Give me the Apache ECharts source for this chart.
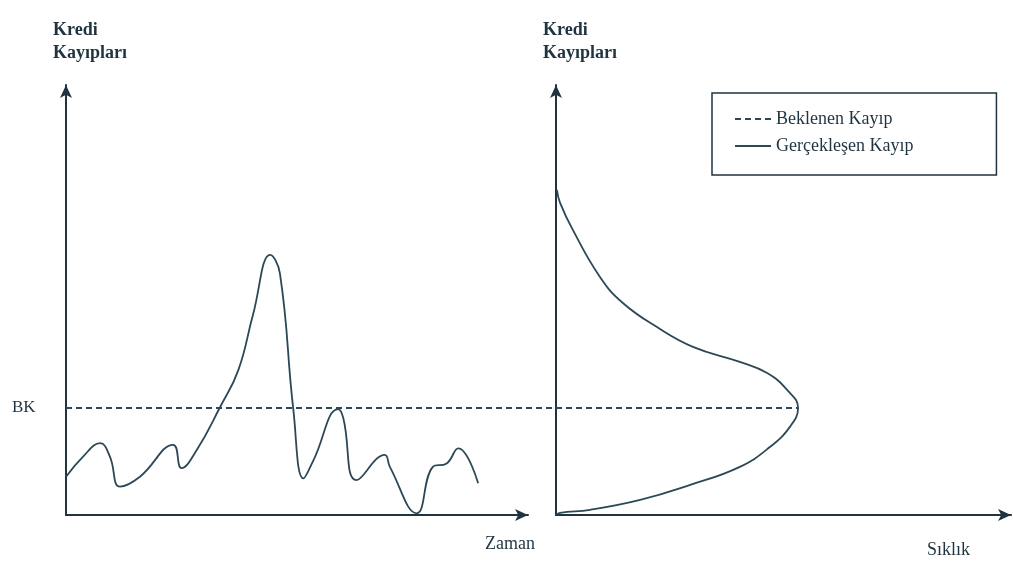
<!DOCTYPE html>
<html>
<head>
<meta charset="utf-8">
<script src="https://cdn.jsdelivr.net/npm/echarts@6/dist/echarts.min.js"></script>
<style>html,body{margin:0;padding:0;background:#fff}#c{width:1013px;height:564px}</style>
</head>
<body>
<div id="c"></div>
<script>
// Left panel: realized credit losses over time (Zaman 0-100, Kayıp 0-100)
const zamanX = [0, 3.7, 7.4, 9.5, 11.7, 16.0, 23.2, 25.0, 28.3, 33.3, 37.3, 40.5, 44.2, 46.3, 49.2, 51.4, 53.6, 58.9, 60.0, 62.9, 69.0, 70.1, 75.9, 79.4, 82.4, 84.9, 89.2];
const kayipY = [8.9, 13.6, 16.7, 13.6, 6.6, 8.9, 16.3, 10.9, 15.1, 25.0, 33.7, 46.7, 60.5, 56.2, 24.6, 8.5, 12.8, 24.6, 22.6, 8.1, 14.0, 11.2, 0.4, 11.2, 12.0, 15.5, 7.4];
// Right panel: loss distribution (Sıklık vs Kayıp)
const siklikX = [0.2, 0.9, 3.7, 9.7, 14.7, 22.2, 30.1, 40.4, 46.4, 50.8, 53.2, 51.4, 47.0, 40.4, 29.5, 18.5, 7.5, 0.9, 0];
const siklikY = [75.6, 72.6, 66.3, 55.3, 49.3, 43.7, 39.1, 35.6, 33.0, 29.1, 24.9, 20.5, 15.8, 11.2, 7.0, 3.5, 1.2, 0.5, 0];
// Expected loss level (BK)
const bkValue = 24.9;
const legendNames = ['Beklenen Kayıp', 'Gerçekleşen Kayıp'];
const yTitle = ['Kredi', 'Kayıpları'];
const xTitles = ['Zaman', 'Sıklık'];
const bkLabel = 'BK';

const ink = '#1f3440';
const lineCol = '#2c4856';
const serif = 'Liberation Serif';

// layout
const G1 = { left: 66, top: 85, width: 462, height: 430 };
const G2 = { left: 556, top: 85, width: 455, height: 430 };
// hidden grid spanning both panels, sharing the right panel's Sıklık scale
const hiddenMin = -(G2.left - G1.left) / G2.width * 100;
const G3 = { left: G1.left, top: 85, width: G2.left + G2.width - G1.left, height: 430 };

const chart = echarts.init(document.getElementById('c'));
const axisCommon = {
  type: 'value', min: 0, max: 100,
  axisLine: { show: true, symbol: ['none', 'arrow'], symbolSize: [9, 13], lineStyle: { color: ink, width: 2 } },
  axisTick: { show: false }, axisLabel: { show: false }, splitLine: { show: false }
};
const hiddenAxis = { type: 'value', show: false, splitLine: { show: false } };
chart.setOption({
  animation: false,
  backgroundColor: '#fff',
  grid: [G1, G2, G3],
  xAxis: [
    Object.assign({ gridIndex: 0 }, axisCommon),
    Object.assign({ gridIndex: 1 }, axisCommon),
    Object.assign({ gridIndex: 2, min: hiddenMin, max: 100 }, hiddenAxis)
  ],
  yAxis: [
    Object.assign({ gridIndex: 0 }, axisCommon),
    Object.assign({ gridIndex: 1 }, axisCommon),
    Object.assign({ gridIndex: 2, min: 0, max: 100 }, hiddenAxis)
  ],
  legend: {
    data: legendNames,
    orient: 'vertical',
    left: 712, top: 93,
    padding: [17, 83, 20, 22],
    itemGap: 9,
    itemWidth: 36, itemHeight: 12,
    borderColor: ink, borderWidth: 1.5,
    itemStyle: { opacity: 0 },
    textStyle: { fontFamily: serif, fontSize: 18, color: ink }
  },
  series: [
    {
      name: legendNames[0], type: 'line', xAxisIndex: 2, yAxisIndex: 2,
      data: [[hiddenMin, bkValue], [Math.max(...siklikX), bkValue]], symbol: 'none',
      itemStyle: { color: lineCol },
      lineStyle: { color: lineCol, width: 2, type: [6, 4] }
    },
    {
      name: legendNames[1], type: 'line', xAxisIndex: 0, yAxisIndex: 0,
      data: zamanX.map((x, i) => [x, kayipY[i]]), symbol: 'none', smooth: 0.45,
      itemStyle: { color: lineCol },
      lineStyle: { color: lineCol, width: 1.8 }
    },
    {
      name: legendNames[1], type: 'line', xAxisIndex: 1, yAxisIndex: 1,
      data: siklikX.map((x, i) => [x, siklikY[i]]), symbol: 'none', smooth: 0.45,
      itemStyle: { color: lineCol },
      lineStyle: { color: lineCol, width: 1.8 }
    }
  ],
  graphic: [
    { type: 'text', left: 53, top: 19, style: { text: yTitle.join('\n'), lineHeight: 23, fontFamily: serif, fontWeight: 'bold', fontSize: 18, fill: ink } },
    { type: 'text', left: 543, top: 19, style: { text: yTitle.join('\n'), lineHeight: 23, fontFamily: serif, fontWeight: 'bold', fontSize: 18, fill: ink } },
    { type: 'text', left: 12, top: 399, style: { text: bkLabel, fontFamily: serif, fontSize: 17, fill: ink } },
    { type: 'text', left: 485, top: 535, style: { text: xTitles[0], fontFamily: serif, fontSize: 18, fill: ink } },
    { type: 'text', left: 927, top: 541, style: { text: xTitles[1], fontFamily: serif, fontSize: 18, fill: ink } }
  ]
});
</script>
</body>
</html>
